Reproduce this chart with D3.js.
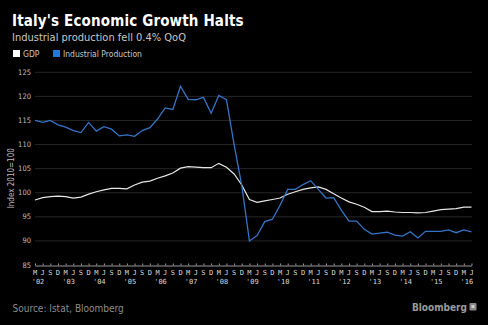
<!DOCTYPE html>
<html>
<head>
<meta charset="utf-8">
<script src="https://cdn.jsdelivr.net/npm/d3@7"></script>
<style>
  html, body { margin: 0; padding: 0; background: #000; }
  svg { display: block; }
  text { font-family: "DejaVu Sans Condensed", "DejaVu Sans", sans-serif; }
</style>
</head>
<body>
<script>
// quarterly observations, Mar 2002 .. Jun 2016
const quarterLetters = ['M', 'J', 'S', 'D'];
const years = ["'02", "'03", "'04", "'05", "'06", "'07", "'08", "'09", "'10", "'11", "'12", "'13", "'14", "'15", "'16"];

const gdp = [
  98.5, 99.0, 99.2, 99.3, 99.2, 98.9, 99.1, 99.7, 100.2, 100.6,
  100.9, 100.9, 100.8, 101.6, 102.2, 102.4, 103.0, 103.5, 104.1, 105.1,
  105.4, 105.3, 105.2, 105.2, 106.1, 105.3, 103.9, 101.6, 98.6, 98.0,
  98.3, 98.6, 98.9, 99.7, 100.2, 100.7, 101.0, 101.2, 100.7, 99.8,
  98.9, 98.1, 97.6, 97.0, 96.1, 96.1, 96.2, 96.0, 95.9, 95.9,
  95.8, 95.9, 96.2, 96.5, 96.6, 96.7, 97.0, 97.0
];

const industrial = [
  115.0, 114.6, 115.0, 114.1, 113.6, 112.9, 112.5, 114.6, 112.8, 113.7,
  113.2, 111.8, 112.0, 111.7, 112.9, 113.5, 115.3, 117.6, 117.3, 122.1,
  119.4, 119.3, 119.8, 116.5, 120.2, 119.3, 110.0, 101.5, 90.0, 91.1,
  94.0, 94.5, 97.4, 100.7, 100.7, 101.7, 102.5, 100.7, 98.9, 99.0,
  96.4, 94.1, 94.1, 92.4, 91.4, 91.6, 91.8, 91.2, 91.0, 91.9,
  90.6, 92.0, 92.0, 92.0, 92.3, 91.7, 92.3, 91.9
];

const yTicks = [85, 90, 95, 100, 105, 110, 115, 120, 125];

const width = 488;
const height = 325;

const x = d3.scaleLinear()
  .domain([0, gdp.length - 1])
  .range([35, 471.5]);

const y = d3.scaleLinear()
  .domain([85, 125])
  .range([265, 72.3]);

const svg = d3.select('body')
  .append('svg')
  .attr('width', width)
  .attr('height', height);

svg.append('rect')
  .attr('width', width)
  .attr('height', height)
  .attr('fill', '#000');

// Title + subtitle
svg.append('text')
  .attr('x', 12)
  .attr('y', 26)
  .attr('fill', '#fff')
  .style('font-size', '15px')
  .style('font-weight', 'bold')
  .style('letter-spacing', '0.15px')
  .text("Italy's Economic Growth Halts");

svg.append('text')
  .attr('x', 12)
  .attr('y', 41)
  .attr('fill', '#c8c8c8')
  .style('font-size', '11px')
  .text('Industrial production fell 0.4% QoQ');

// Legend
const legend = svg.append('g').attr('transform', 'translate(13, 50)');
const legendItems = [
  { name: 'GDP', color: '#ffffff', dx: 0 },
  { name: 'Industrial Production', color: '#1f7ae0', dx: 40 }
];
legendItems.forEach(item => {
  legend.append('rect')
    .attr('x', item.dx)
    .attr('y', 0)
    .attr('width', 7)
    .attr('height', 7)
    .attr('fill', item.color);
  legend.append('text')
    .attr('x', item.dx + 10)
    .attr('y', 7)
    .attr('fill', '#c8c8c8')
    .style('font-size', '8.5px')
    .text(item.name);
});

// Gridlines
svg.append('g')
  .selectAll('line')
  .data(yTicks.slice(1))
  .enter()
  .append('line')
  .attr('x1', 35)
  .attr('x2', 472)
  .attr('y1', d => y(d))
  .attr('y2', d => y(d))
  .attr('stroke', '#262626')
  .attr('stroke-width', 1);

// y axis labels
svg.append('g')
  .selectAll('text')
  .data(yTicks)
  .enter()
  .append('text')
  .attr('x', 31)
  .attr('y', d => y(d) + 2.5)
  .attr('text-anchor', 'end')
  .attr('fill', '#bdbdbd')
  .style('font-size', '7.5px')
  .text(d => d);

svg.append('text')
  .attr('transform', `translate(14, ${y(103)}) rotate(-90)`)
  .attr('text-anchor', 'middle')
  .attr('fill', '#bdbdbd')
  .style('font-size', '8px')
  .text('Index 2010=100');

// x axis baseline with quarterly ticks
const xAxis = d3.axisTop(x)
  .tickValues(d3.range(gdp.length))
  .tickSize(2)
  .tickSizeOuter(0)
  .tickFormat('');

const axisG = svg.append('g')
  .attr('transform', `translate(0, ${y(85) + 0.5})`)
  .call(xAxis);
axisG.select('.domain').attr('stroke', '#9a9a9a');
axisG.selectAll('.tick line').attr('stroke', '#9a9a9a');

// quarter letters
svg.append('g')
  .selectAll('text')
  .data(d3.range(gdp.length))
  .enter()
  .append('text')
  .attr('x', d => x(d))
  .attr('y', 274.5)
  .attr('text-anchor', 'middle')
  .attr('fill', '#d8d8d8')
  .style('font-family', '"DejaVu Sans Mono", monospace')
  .style('font-size', '7px')
  .text(d => quarterLetters[d % 4]);

// year labels
svg.append('g')
  .selectAll('text')
  .data(years)
  .enter()
  .append('text')
  .attr('x', (d, i) => x(i * 4) + 3)
  .attr('y', 283.5)
  .attr('text-anchor', 'middle')
  .attr('fill', '#d8d8d8')
  .style('font-family', '"DejaVu Sans Mono", monospace')
  .style('font-size', '7px')
  .text(d => d);

// lines
const line = d3.line()
  .x((d, i) => x(i))
  .y(d => y(d));

svg.append('path')
  .datum(gdp)
  .attr('fill', 'none')
  .attr('stroke', '#e6e6e6')
  .attr('stroke-width', 1.2)
  .attr('d', line);

svg.append('path')
  .datum(industrial)
  .attr('fill', 'none')
  .attr('stroke', '#3374c8')
  .attr('stroke-width', 1.3)
  .attr('d', line);

// footer
svg.append('text')
  .attr('x', 12.5)
  .attr('y', 311.5)
  .attr('fill', '#8c8c8c')
  .style('font-size', '10px')
  .text('Source: Istat, Bloomberg');

svg.append('text')
  .attr('x', 467)
  .attr('y', 310.5)
  .attr('text-anchor', 'end')
  .attr('fill', '#9a9a9a')
  .style('font-size', '10px')
  .style('font-weight', 'bold')
  .text('Bloomberg');

svg.append('rect')
  .attr('x', 469.5)
  .attr('y', 303)
  .attr('width', 7)
  .attr('height', 7.5)
  .attr('rx', 1)
  .attr('fill', '#8a8a8a');
svg.append('rect')
  .attr('x', 471.5)
  .attr('y', 305)
  .attr('width', 3)
  .attr('height', 3)
  .attr('fill', '#cfcfcf');
</script>
</body>
</html>
